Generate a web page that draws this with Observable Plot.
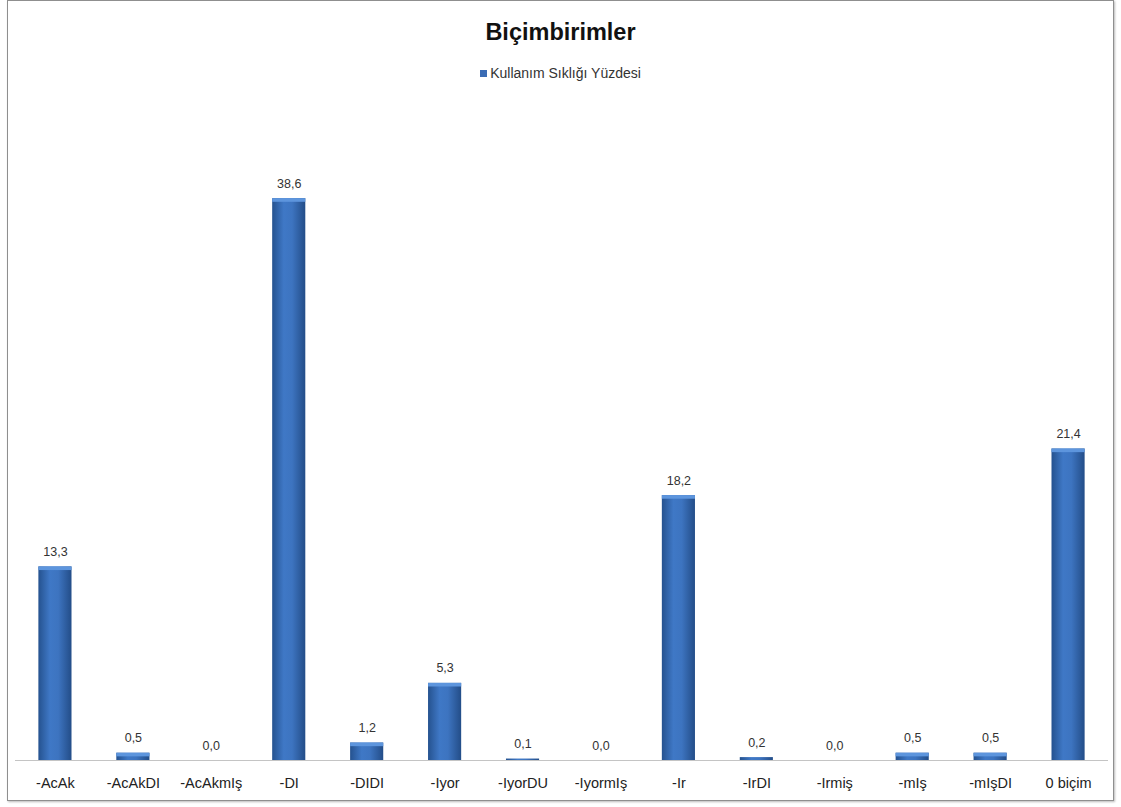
<!DOCTYPE html>
<html>
<head>
<meta charset="utf-8">
<script src="https://cdn.jsdelivr.net/npm/d3@7"></script>
<script src="https://cdn.jsdelivr.net/npm/@observablehq/plot@0.6"></script>
<style>
  html, body { margin: 0; padding: 0; background: #fff; width: 1121px; height: 807px; overflow: hidden; font-family: "Liberation Sans", Arial, sans-serif; }
  #frame { position: absolute; left: 7px; top: 0px; width: 1105px; height: 799px; border: 1px solid #8f8f8f; box-shadow: 1px 1px 2px #bbb; }
  #title { position: absolute; left: 0; top: 19px; width: 1121px; text-align: center; font-weight: bold; font-size: 23.5px; color: #111; }
  #legend { position: absolute; left: 0; top: 65px; width: 1121px; text-align: center; font-size: 14px; color: #333; }
  #legend .sw { display: inline-block; width: 7px; height: 7px; background: #3a6cb4; margin-right: 3px; vertical-align: 1px; }
  #chart { position: absolute; left: 0; top: 90px; }
</style>
</head>
<body>
<div id="frame"></div>
<div id="title">Biçimbirimler</div>
<div id="legend"><span class="sw"></span>Kullanım Sıklığı Yüzdesi</div>
<div id="chart"></div>
<script>
const categories = ["-AcAk", "-AcAkDI", "-AcAkmIş", "-DI", "-DIDI", "-Iyor", "-IyorDU", "-IyormIş", "-Ir", "-IrDI", "-Irmiş", "-mIş", "-mIşDI", "0 biçim"];
const values = [13.3, 0.5, 0.0, 38.6, 1.2, 5.3, 0.1, 0.0, 18.2, 0.2, 0.0, 0.5, 0.5, 21.4];
const seriesName = "Kullanım Sıklığı Yüzdesi";

const data = categories.map((c, i) => ({category: c, value: values[i]}));
const fmt = v => v.toFixed(1).replace(".", ",");

const chart = Plot.plot({
  width: 1121,
  height: 710,
  marginLeft: 15,
  marginRight: 13,
  marginTop: 15,
  marginBottom: 40,
  style: {fontFamily: "'Liberation Sans', Arial, sans-serif", background: "transparent"},
  x: {domain: categories, paddingInner: 0.575, paddingOuter: 0.3, round: false, label: null},
  y: {domain: [0, 45], axis: null},
  marks: [
    Plot.barY(data, {x: "category", y: "value", fill: "url(#barGrad)"}),
    Plot.barY(data.filter(d => d.value > 0.3), {x: "category", y1: d => d.value - 0.25, y2: "value", fill: "#5d95dd"}),
    Plot.ruleY([0], {stroke: "#c4c4c4", strokeWidth: 1.2}),
    Plot.text(data, {x: "category", y: "value", text: d => fmt(d.value), dy: -11, lineAnchor: "bottom", fontSize: 12.5, fill: "#333"}),
    Plot.axisX({tickSize: 0, tickPadding: 17, fontSize: 14.5, fill: "#222", label: null})
  ]
});

const svg = d3.select(chart);
const defs = svg.insert("defs", ":first-child");
const g = defs.append("linearGradient").attr("id", "barGrad").attr("x1", "0%").attr("x2", "100%").attr("y1", "0%").attr("y2", "0%");
g.append("stop").attr("offset", "0%").attr("stop-color", "#25528f");
g.append("stop").attr("offset", "35%").attr("stop-color", "#3f78c6");
g.append("stop").attr("offset", "60%").attr("stop-color", "#3d74c0");
g.append("stop").attr("offset", "100%").attr("stop-color", "#234d88");

document.getElementById("chart").appendChild(chart);
</script>
</body>
</html>
